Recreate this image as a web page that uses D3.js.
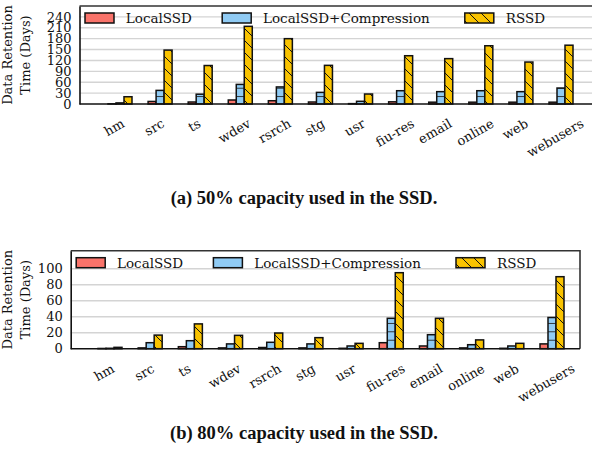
<!DOCTYPE html>
<html><head><meta charset="utf-8">
<script src="https://cdn.jsdelivr.net/npm/d3@7/dist/d3.min.js"></script>
<style>body{margin:0;background:#fff}svg{display:block}</style>
</head><body>
<svg id="c" width="592" height="449"></svg>
<script>
const categories = ["hm","src","ts","wdev","rsrch","stg","usr","fiu-res","email","online","web","webusers"];
const seriesNames = ["LocalSSD","LocalSSD+Compression","RSSD"];
// (a) 50% capacity used
const local50 = [0.5, 7, 5.5, 11, 9, 5.5, 1, 6, 5, 5, 5, 5];
const comp50  = [3, 37.5, 27, 54, 47, 32, 7.4, 36.6, 34, 36.6, 34, 44];
const rssd50  = [20, 148.5, 106, 214, 180, 106.5, 27.5, 133, 125, 160.5, 115.6, 162];
const ticks50 = [0,30,60,90,120,150,180,210,240];
// (b) 80% capacity used
const local80 = [0.3, 1, 2.5, 1, 1.5, 1, 0.5, 7.5, 3.4, 1, 0.5, 6];
const comp80  = [0.5, 7.5, 10, 6, 8, 6, 3.4, 38, 17.5, 5, 3.4, 39];
const rssd80  = [1.7, 17, 31, 16.7, 19.6, 13.8, 6.7, 95, 38, 11, 6.7, 90];
const ticks80 = [0,20,40,60,80,100];
const captions = ["(a) 50% capacity used in the SSD.","(b) 80% capacity used in the SSD."];
const yTitle = ["Data Retention","Time (Days)"];

const colors = ["#f9736a","#90cbf4","#f9c300"];
const svg = d3.select("#c");
const defs = svg.append("defs");
const pd = defs.append("pattern").attr("id","hDiag").attr("patternUnits","userSpaceOnUse")
  .attr("width",12).attr("height",12);
pd.append("rect").attr("width",12).attr("height",12).attr("fill",colors[2]);
pd.append("path").attr("d","M-3,-3L15,15M-3,9L3,15M9,-3L15,3").attr("stroke","#111").attr("stroke-width",1);
const ph = defs.append("pattern").attr("id","hHor").attr("patternUnits","userSpaceOnUse")
  .attr("width",10).attr("height",8.4);
ph.append("rect").attr("width",10).attr("height",8.4).attr("fill",colors[1]);
ph.append("line").attr("x1",0).attr("x2",10).attr("y1",4.2).attr("y2",4.2).attr("stroke","#222").attr("stroke-width",0.9);
const fills = [colors[0],"url(#hHor)","url(#hDiag)"];
const legendFills = [colors[0],colors[1],"url(#hDiag)"];

function drawChart(cfg){
  const g = svg.append("g");
  const y = d3.scaleLinear().domain([0,cfg.ymax]).range([cfg.bottom,cfg.top]);
  const x = d3.scalePoint().domain(categories).range(cfg.xr);
  const bw = 8;
  const off = d3.scaleBand().domain([0,1,2]).range([-12,12]);
  g.append("g").selectAll("line").data(cfg.ticks.filter(t=>t>0)).join("line")
    .attr("x1",cfg.left).attr("x2",cfg.right).attr("y1",d=>y(d)).attr("y2",d=>y(d))
    .attr("stroke","#d4d4d4").attr("stroke-width",1.4);
  g.append("path").attr("d",`M${cfg.left},${cfg.top}H${cfg.right}V${cfg.bottom}`)
    .attr("fill","none").attr("stroke","#333").attr("stroke-width",1.6);
  cfg.series.forEach((vals,si)=>{
    g.append("g").selectAll("rect").data(vals).join("rect")
      .attr("x",(d,i)=>x(categories[i])+off(si))
      .attr("width",bw)
      .attr("y",d=>y(d)).attr("height",d=>cfg.bottom-y(d))
      .attr("fill",fills[si]).attr("stroke","#111").attr("stroke-width",1.5);
  });
  const ya = d3.axisLeft(y).tickValues(cfg.ticks).tickSize(0).tickPadding(8);
  const yg = g.append("g").attr("transform",`translate(${cfg.left},0)`).call(ya);
  yg.select(".domain").attr("stroke","#111").attr("stroke-width",1.6);
  yg.selectAll("text").attr("font-family","DejaVu Serif").attr("font-size",13).attr("fill","#111");
  const xa = d3.axisBottom(x).tickSize(0).tickFormat("");
  const xg = g.append("g").attr("transform",`translate(0,${cfg.bottom})`).call(xa);
  xg.select(".domain").attr("d",`M${cfg.left},0H${cfg.right}`).attr("stroke","#111").attr("stroke-width",1.6);
  const lbl = g.append("g").selectAll("text").data(categories).join("text")
    .attr("font-family","DejaVu Serif").attr("font-size",13).attr("fill","#111")
    .attr("text-anchor","middle").text(d=>d);
  lbl.each(function(d){
    const L = this.getComputedTextLength() || d.length*8;
    const px = x(d) - 3.5;
    const py = cfg.bottom + cfg.lgap + L/4 + 0.866*9.9;
    d3.select(this).attr("transform",`translate(${px},${py}) rotate(-30)`);
  });
  const yt = g.append("text").attr("font-family","DejaVu Serif").attr("font-size",13).attr("fill","#111")
    .attr("text-anchor","middle")
    .attr("transform",`translate(12,${(cfg.top+cfg.bottom)/2}) rotate(-90)`);
  yt.append("tspan").attr("x",0).attr("y",0).text(yTitle[0]);
  yt.append("tspan").attr("x",0).attr("y",18).text(yTitle[1]);
  const lpx = [5.5,142.7,385.3], ltx=[46.3,183.5,426.3];
  seriesNames.forEach((n,i)=>{
    g.append("rect").attr("x",cfg.left+lpx[i]).attr("y",cfg.top+7).attr("width",29).attr("height",10)
      .attr("fill",legendFills[i]).attr("stroke","#111").attr("stroke-width",1.5);
    g.append("text").attr("x",cfg.left+ltx[i]).attr("y",cfg.top+17)
      .attr("font-family","DejaVu Serif").attr("font-size",13.5).attr("fill","#111").text(n);
  });
  g.append("text").attr("x",304).attr("y",cfg.capY).attr("text-anchor","middle")
    .attr("font-family","Liberation Serif").attr("font-weight","bold").attr("font-size",18.5)
    .attr("fill","#111").text(cfg.caption);
}

drawChart({left:79.5,right:593,top:6,bottom:104,ymax:270,ticks:ticks50,xr:[120,561],
  series:[local50,comp50,rssd50],lgap:13.6,capY:204,caption:captions[0]});
drawChart({left:70.7,right:580,top:250.7,bottom:348.7,ymax:122.5,ticks:ticks80,xr:[110,552],
  series:[local80,comp80,rssd80],lgap:14,capY:439,caption:captions[1]});
</script>
</body></html>
